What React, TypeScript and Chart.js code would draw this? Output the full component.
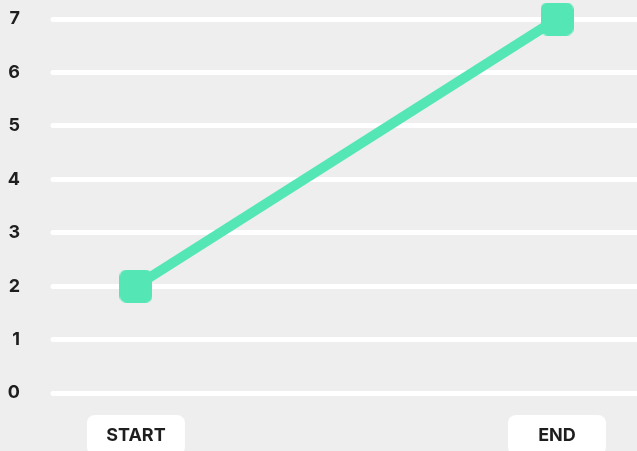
import React, { useEffect, useRef } from "react";
import { Chart, registerables } from "chart.js";

Chart.register(...registerables);

const categories = ["START", "END"];
const values = [2, 7];
const yMin = 0;
const yMax = 7;
const yStep = 1;

const LINE_COLOR = "#54E6B4";
const BG = "#eeeeee";
const FONT = "Inter";

function makePointImage(): HTMLCanvasElement {
  const c = document.createElement("canvas");
  c.width = 33;
  c.height = 33;
  const g = c.getContext("2d")!;
  g.fillStyle = LINE_COLOR;
  g.beginPath();
  (g as any).roundRect(0, 0, 33, 33, 7);
  g.fill();
  return c;
}

const labelBoxes = {
  id: "labelBoxes",
  beforeDraw(chart: any) {
    const ctx = chart.ctx;
    const xs = chart.scales.x;
    ctx.save();
    ctx.fillStyle = "#ffffff";
    xs.ticks.forEach((t: any) => {
      const px = xs.getPixelForValue(t.value);
      ctx.beginPath();
      ctx.roundRect(px - 49, xs.top + 22, 98, 40, 8);
      ctx.fill();
    });
    ctx.restore();
    ctx.lineCap = "round";
  },
};

export default function App() {
  const ref = useRef<HTMLCanvasElement>(null);
  useEffect(() => {
    const pointImg = makePointImage();
    const chart = new Chart(ref.current!, {
      type: "line",
      data: {
        datasets: [
          {
            data: values.map((v, i) => ({ x: i, y: v })),
            borderColor: LINE_COLOR,
            backgroundColor: LINE_COLOR,
            borderWidth: 10,
            pointStyle: pointImg as any,
            pointRadius: 16,
            pointHoverRadius: 16,
            tension: 0,
            clip: false as any,
          },
        ],
      },
      plugins: [labelBoxes],
      options: {
        animation: false,
        responsive: true,
        maintainAspectRatio: false,
        events: [],
        layout: { autoPadding: false, padding: { left: 0, right: 0, top: 19, bottom: 0 } },
        plugins: {
          legend: { display: false },
          tooltip: { enabled: false },
        },
        scales: {
          x: {
            type: "linear",
            min: -0.197,
            max: 1.19,
            grid: { display: false, drawTicks: false },
            border: { display: false },
            afterBuildTicks: (scale: any) => {
              scale.ticks = categories.map((_, i) => ({ value: i }));
            },
            afterFit: (scale: any) => {
              scale.height = 58;
              scale.paddingLeft = 0;
              scale.paddingRight = 0;
            },
            ticks: {
              padding: 32,
              color: "#1e1e1e",
              font: { family: FONT, size: 18, weight: "bold" },
              callback: (v: any) => categories[v as number] ?? "",
              maxRotation: 0,
              autoSkip: false,
            },
          },
          y: {
            min: yMin,
            max: yMax,
            grid: { color: "#ffffff", lineWidth: 5, drawTicks: false },
            border: { display: false },
            afterFit: (scale: any) => {
              scale.width = 53;
              scale.paddingTop = 0;
              scale.paddingBottom = 0;
            },
            ticks: {
              stepSize: yStep,
              padding: 33,
              color: "#1e1e1e",
              font: { family: FONT, size: 18, weight: "bold" },
            },
          },
        },
      },
    });
    return () => chart.destroy();
  }, []);
  return (
    <div
      style={{
        position: "fixed",
        left: 0,
        top: 0,
        width: 637,
        height: 451,
        background: BG,
      }}
    >
      <canvas ref={ref} />
    </div>
  );
}
